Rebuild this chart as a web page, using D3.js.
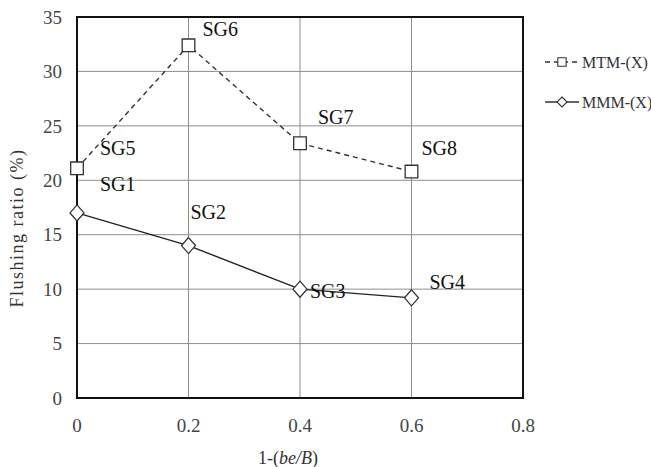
<!DOCTYPE html>
<html>
<head>
<meta charset="utf-8">
<script src="https://cdn.jsdelivr.net/npm/d3@7"></script>
</head>
<body style="margin:0">
<svg width="651" height="467"></svg>
<script>
const xValues = [0, 0.2, 0.4, 0.6];
const mtmValues = [21.1, 32.4, 23.4, 20.8];
const mmmValues = [17.0, 14.0, 10.0, 9.2];
const mtmLabels = ["SG5", "SG6", "SG7", "SG8"];
const mmmLabels = ["SG1", "SG2", "SG3", "SG4"];
const xTicks = [0, 0.2, 0.4, 0.6, 0.8];
const yTicks = [0, 5, 10, 15, 20, 25, 30, 35];

// label offsets from their points (px)
const mtmOffsets = [[23, -13], [14, -9], [18, -19], [10, -17]];
const mmmOffsets = [[23, -22], [2, -27], [10, 9], [18, -9]];

const margin = {left: 77, right: 128, top: 17, bottom: 69};
const width = 651, height = 467;

const svg = d3.select("svg");

const x = d3.scaleLinear().domain([0, 0.8]).range([margin.left, width - margin.right]);
const y = d3.scaleLinear().domain([0, 35]).range([height - margin.bottom, margin.top]);

// grid
svg.append("g")
  .selectAll("line")
  .data(xTicks.slice(1, -1))
  .enter().append("line")
    .attr("x1", d => x(d)).attr("x2", d => x(d))
    .attr("y1", y(0)).attr("y2", y(35))
    .attr("stroke", "#8a8f8f").attr("stroke-width", 1);

svg.append("g")
  .selectAll("line")
  .data(yTicks.slice(1, -1))
  .enter().append("line")
    .attr("x1", x(0)).attr("x2", x(0.8))
    .attr("y1", d => y(d)).attr("y2", d => y(d))
    .attr("stroke", "#8a8f8f").attr("stroke-width", 1);

// frame
svg.append("rect")
  .attr("x", x(0)).attr("y", y(35))
  .attr("width", x(0.8) - x(0)).attr("height", y(0) - y(35))
  .attr("fill", "none").attr("stroke", "#111").attr("stroke-width", 2);

// tick labels
svg.append("g")
  .selectAll("text")
  .data(yTicks)
  .enter().append("text")
    .attr("x", x(0) - 15)
    .attr("y", d => y(d))
    .attr("dy", "0.35em")
    .attr("text-anchor", "end")
    .attr("font-size", 19)
    .attr("fill", "#444")
    .text(d => d);

svg.append("g")
  .selectAll("text")
  .data(xTicks)
  .enter().append("text")
    .attr("x", d => x(d))
    .attr("y", y(0) + 27)
    .attr("dy", "0.35em")
    .attr("text-anchor", "middle")
    .attr("font-size", 19)
    .attr("fill", "#444")
    .text(d => d);

// axis titles
const xt = svg.append("text")
  .attr("x", 288).attr("y", 464)
  .attr("text-anchor", "middle")
  .attr("font-size", 18)
  .attr("fill", "#333");
xt.append("tspan").text("1-(");
xt.append("tspan").attr("font-style", "italic").text("be/B");
xt.append("tspan").text(")");

svg.append("text")
  .attr("transform", "translate(23,228) rotate(-90)")
  .attr("text-anchor", "middle")
  .attr("font-size", 18)
  .attr("letter-spacing", 1.5)
  .attr("fill", "#333")
  .text("Flushing ratio (%)");

// series
const mtm = xValues.map((d, i) => ({x: d, y: mtmValues[i], label: mtmLabels[i], off: mtmOffsets[i]}));
const mmm = xValues.map((d, i) => ({x: d, y: mmmValues[i], label: mmmLabels[i], off: mmmOffsets[i]}));

const line = d3.line().x(d => x(d.x)).y(d => y(d.y));

svg.append("path")
  .attr("d", line(mtm))
  .attr("fill", "none")
  .attr("stroke", "#333")
  .attr("stroke-width", 1.4)
  .attr("stroke-dasharray", "5,4");

svg.append("path")
  .attr("d", line(mmm))
  .attr("fill", "none")
  .attr("stroke", "#222")
  .attr("stroke-width", 1.4);

const square = d3.symbol().type(d3.symbolSquare).size(160);
const diamond = "M0,-8L7,0L0,8L-7,0Z";

svg.append("g")
  .selectAll("path")
  .data(mtm)
  .enter().append("path")
    .attr("transform", d => `translate(${x(d.x)},${y(d.y)})`)
    .attr("d", square)
    .attr("fill", "#fff")
    .attr("stroke", "#333")
    .attr("stroke-width", 1.3);

svg.append("g")
  .selectAll("path")
  .data(mmm)
  .enter().append("path")
    .attr("transform", d => `translate(${x(d.x)},${y(d.y)})`)
    .attr("d", diamond)
    .attr("fill", "#fff")
    .attr("stroke", "#333")
    .attr("stroke-width", 1.3);

// point labels
svg.append("g")
  .selectAll("text")
  .data(mtm.concat(mmm))
  .enter().append("text")
    .attr("x", d => x(d.x) + d.off[0])
    .attr("y", d => y(d.y) + d.off[1])
    .attr("font-size", 20)
    .attr("fill", "#111")
    .text(d => d.label);

// legend
const legend = svg.append("g");
const items = [
  {name: "MTM-(X)", dash: "5,4", sym: "square", ly: 62},
  {name: "MMM-(X)", dash: null, sym: "diamond", ly: 102}
];
items.forEach(it => {
  legend.append("line")
    .attr("x1", 545).attr("x2", 579)
    .attr("y1", it.ly).attr("y2", it.ly)
    .attr("stroke", "#333").attr("stroke-width", 1.3)
    .attr("stroke-dasharray", it.dash);
  legend.append("path")
    .attr("transform", `translate(562,${it.ly})`)
    .attr("d", it.sym === "square" ? d3.symbol().type(d3.symbolSquare).size(70)() : "M0,-5L5,0L0,5L-5,0Z")
    .attr("fill", "#fff").attr("stroke", "#333").attr("stroke-width", 1.1);
  legend.append("text")
    .attr("x", 582).attr("y", it.ly)
    .attr("dy", "0.35em")
    .attr("font-size", 16)
    .attr("fill", "#333")
    .text(it.name);
});

// serif face for every label
svg.selectAll("text")
  .attr("font-family", "Liberation Serif")
  .style("font-family", d => '"Liberation Serif"');
</script>
</body>
</html>
